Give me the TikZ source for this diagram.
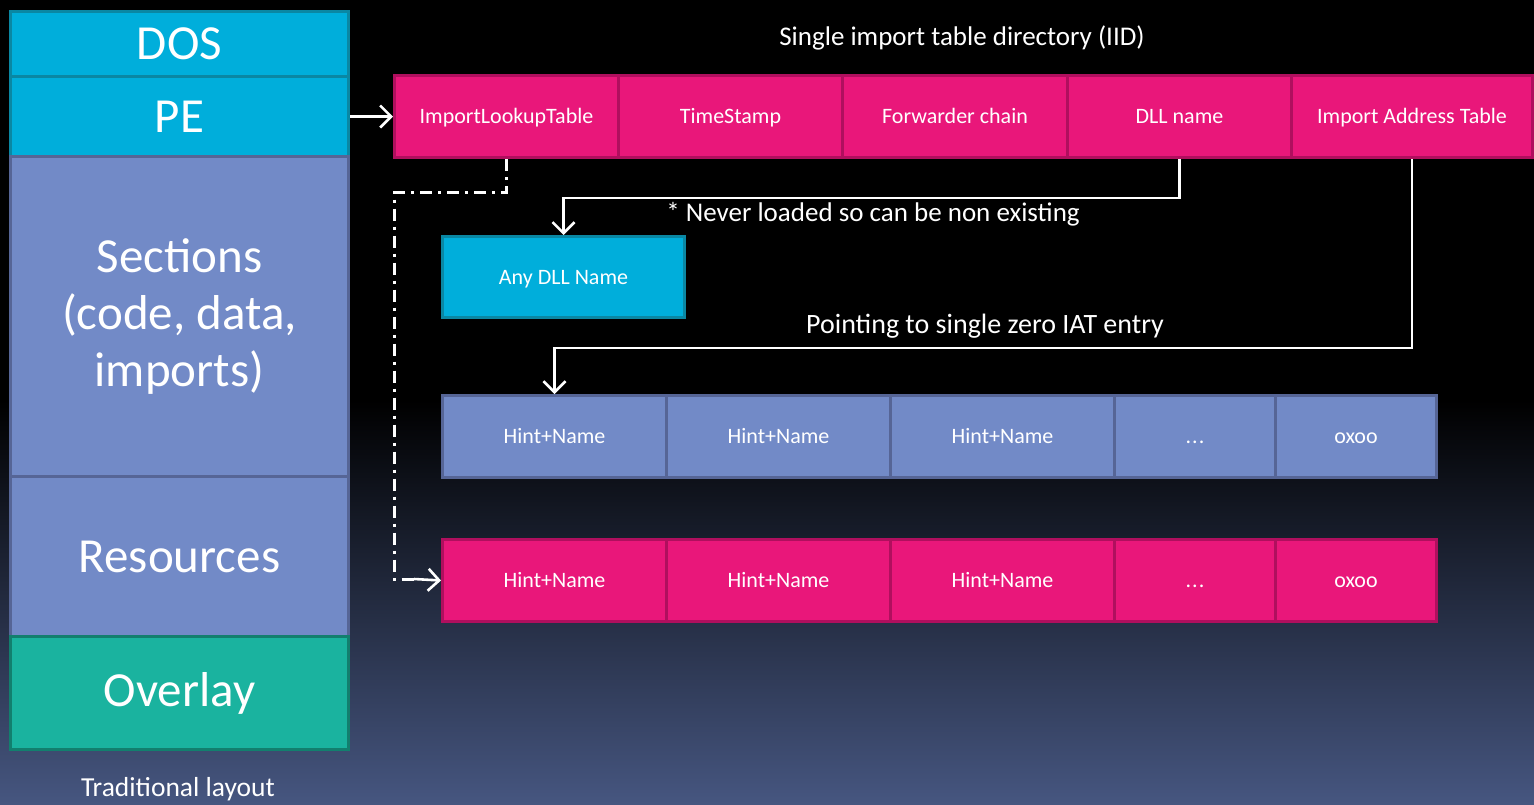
\documentclass[tikz,border=0pt]{standalone}
\usepackage{fontspec}
\setmainfont{Carlito}
\usetikzlibrary{arrows.meta}
\definecolor{cyanf}{HTML}{00AEDB}
\definecolor{cyanb}{HTML}{0A87A3}
\definecolor{perif}{HTML}{728AC7}
\definecolor{perib}{HTML}{566596}
\definecolor{tealf}{HTML}{1AB39F}
\definecolor{tealb}{HTML}{127F6E}
\definecolor{pinkf}{HTML}{E9177A}
\definecolor{pinkb}{HTML}{B00F5E}
\definecolor{bgbot}{RGB}{70,86,128}
\tikzset{
  blk/.style={draw, line width=3pt, anchor=north west, inner sep=0pt, text=white, align=center},
  bigtxt/.style={font=\fontsize{49}{57}\selectfont},
  celltxt/.style={font=\fontsize{22}{26}\selectfont, text height=17pt, text depth=3pt},
  pinkcell/.style={blk, celltxt, fill=pinkf, draw=pinkb, minimum height=82pt},
  pericell/.style={blk, celltxt, fill=perif, draw=perib, minimum height=82pt},
  lbl/.style={text=white, inner sep=0pt},
  arr/.style={draw=white, line width=2.6pt, -{Straight Barb[length=11pt,width=22pt,line width=2.6pt]}},
  dd/.style={draw=white, line width=3pt, dash pattern=on 12pt off 6pt on 3pt off 6pt},
}
\begin{document}
\begin{tikzpicture}[x=1pt,y=-1pt]
\useasboundingbox (0,0) rectangle (1534,804);
\fill[black] (0,0) rectangle (1534,804);
\shade[top color=black, bottom color=bgbot] (0,400) rectangle (1534,804);

% left column
\node[blk, bigtxt, fill=cyanf, draw=cyanb, minimum width=338pt, minimum height=65pt] (dos) at (9,10) {DOS};
\node[blk, bigtxt, fill=cyanf, draw=cyanb, minimum width=338pt, minimum height=80pt] (pe) at (9,75) {PE};
\node[blk, bigtxt, fill=perif, draw=perib, minimum width=338pt, minimum height=320pt] (sec) at (9,155) {Sections\\(code, data,\\imports)};
\node[blk, bigtxt, fill=perif, draw=perib, minimum width=338pt, minimum height=160pt] (res) at (9,475) {Resources};
\node[blk, bigtxt, fill=tealf, draw=tealb, minimum width=338pt, minimum height=113pt] (ovl) at (9,635) {Overlay};
\node[lbl, font=\fontsize{27.5}{32}\selectfont] (trad) at (178,789) {Traditional layout};

% title
\node[lbl, font=\fontsize{27}{32}\selectfont] (title) at (962,38) {Single import table directory (IID)};

% top row
\node[pinkcell, minimum width=224pt] (ilt) at (393,74) {ImportLookupTable};
\node[pinkcell, minimum width=224pt] (ts) at (617,74) {TimeStamp};
\node[pinkcell, minimum width=225pt] (fc) at (841,74) {Forwarder chain};
\node[pinkcell, minimum width=224pt] (dll) at (1066,74) {DLL name};
\node[pinkcell, minimum width=241pt] (iat) at (1290,74) {Import Address Table};

% any dll
\node[blk, celltxt, fill=cyanf, draw=cyanb, minimum width=242pt, minimum height=81pt] (anydll) at (441,235) {Any DLL Name};

% middle row
\node[pericell, minimum width=224pt] (h1) at (441,394) {Hint+Name};
\node[pericell, minimum width=224pt] (h2) at (665,394) {Hint+Name};
\node[pericell, minimum width=224pt] (h3) at (889,394) {Hint+Name};
\node[pericell, minimum width=161pt] (h4) at (1113,394) {.\kern1pt.\kern1pt.};
\node[pericell, minimum width=161pt] (h5) at (1274,394) {oxoo};

% bottom row
\node[pinkcell, minimum width=224pt] (p1) at (441,538) {Hint+Name};
\node[pinkcell, minimum width=224pt] (p2) at (665,538) {Hint+Name};
\node[pinkcell, minimum width=224pt] (p3) at (889,538) {Hint+Name};
\node[pinkcell, minimum width=161pt] (p4) at (1113,538) {.\kern1pt.\kern1pt.};
\node[pinkcell, minimum width=161pt] (p5) at (1274,538) {oxoo};

% labels
\node[lbl, font=\fontsize{27}{32}\selectfont] (lab1) at (873,214) {* Never loaded so can be non existing};
\node[lbl, font=\fontsize{28}{32}\selectfont] (lab2) at (985,326) {Pointing to single zero IAT entry};

% connectors
\draw[arr] (pe.east) -- (ilt.west);
\draw[arr] (dll.south) -- ++(0,39) -| (anydll.north);
\draw[arr] (iat.south) -- ++(0,189) -| (h1.north);
\coordinate (ddc) at (394,192);
\coordinate (ddend) at (414,579);
\draw[dd] (ilt.south) |- (ddc) |- (ddend);
\draw[arr] (ddend) -- (p1.west);
\end{tikzpicture}
\end{document}
